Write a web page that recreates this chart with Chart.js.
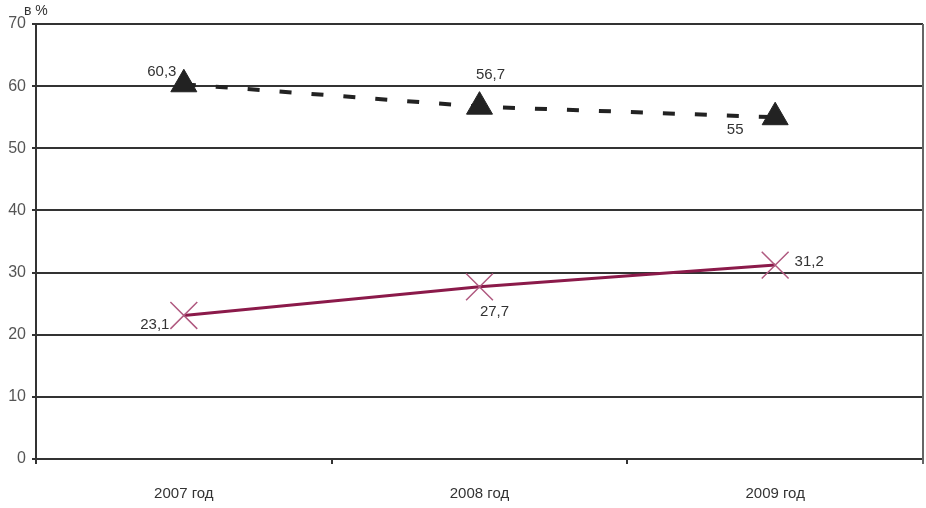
<!DOCTYPE html>
<html><head><meta charset="utf-8">
<script src="https://cdn.jsdelivr.net/npm/chart.js@4"></script>
<style>html,body{margin:0;padding:0;background:#fff}#wrap{width:926px;height:508px}</style>
</head><body><div id="wrap"><canvas id="c" width="926" height="508"></canvas></div>
<script>
const categories = ['2007 год', '2008 год', '2009 год'];
const seriesA = [60.3, 56.7, 55];
const seriesB = [23.1, 27.7, 31.2];
const labelsA = ['60,3', '56,7', '55'];
const labelsB = ['23,1', '27,7', '31,2'];
const yTicks = [0, 10, 20, 30, 40, 50, 60, 70];
const unitLabel = 'в %';

const labelOffsets = [
  [[-22, -12], [11, -32], [-40, 13]],
  [[-29, 9], [15, 25], [34, -3]]
];
const labelText = [labelsA, labelsB];

const pointLabels = {
  id: 'pointLabels',
  beforeDatasetsDraw(chart) {
    const ctx = chart.ctx, a = chart.chartArea;
    ctx.save();
    ctx.strokeStyle = '#666';
    ctx.lineWidth = 2;
    ctx.beginPath();
    ctx.moveTo(a.right, a.top);
    ctx.lineTo(a.right, a.bottom + 5);
    ctx.stroke();
    ctx.restore();
  },
  afterDatasetsDraw(chart) {
    const ctx = chart.ctx;
    ctx.save();
    ctx.font = '15px "Liberation Sans", Arial, sans-serif';
    ctx.fillStyle = '#333';
    ctx.textAlign = 'center';
    ctx.textBaseline = 'middle';
    chart.data.datasets.forEach((ds, di) => {
      chart.getDatasetMeta(di).data.forEach((pt, i) => {
        const o = labelOffsets[di][i];
        ctx.fillText(labelText[di][i], pt.x + o[0], pt.y + o[1]);
      });
    });
    ctx.font = '14px "Liberation Sans", Arial, sans-serif';
    ctx.textAlign = 'left';
    ctx.fillText(unitLabel, 24, 11);
    ctx.restore();
  }
};

new Chart(document.getElementById('c'), {
  type: 'line',
  data: {
    labels: categories,
    datasets: [
      {
        data: seriesA,
        borderColor: '#222',
        borderWidth: 4,
        borderDash: [12, 20],
        pointStyle: 'triangle',
        pointRadius: 15,
        pointBackgroundColor: '#222',
        pointBorderColor: '#222',
        pointBorderWidth: 1,
        tension: 0
      },
      {
        data: seriesB,
        borderColor: '#8b1a4a',
        borderWidth: 3,
        pointStyle: 'crossRot',
        pointRadius: 19,
        pointBorderColor: '#b05a80',
        pointBorderWidth: 1.5,
        tension: 0
      }
    ]
  },
  options: {
    responsive: false,
    animation: false,
    layout: { autoPadding: false, padding: { left: 0, top: 24, right: 3, bottom: 0 } },
    plugins: { legend: { display: false }, tooltip: { enabled: false } },
    scales: {
      x: {
        offset: true,
        afterFit: s => { s.height = 49; },
        grid: { drawOnChartArea: false, drawTicks: true, tickLength: 5, color: '#333', lineWidth: 2, offset: true },
        border: { display: true, color: '#333', width: 2 },
        ticks: { color: '#333', font: { size: 15, family: '"Liberation Sans", Arial, sans-serif' }, padding: 21 }
      },
      y: {
        min: 0, max: 70,
        afterFit: s => { s.width = 36; },
        afterBuildTicks: s => { s.ticks = yTicks.map(v => ({ value: v })); },
        grid: { color: '#333', lineWidth: 2, tickLength: 4 },
        border: { display: true, color: '#333', width: 2 },
        ticks: { color: '#555', font: { size: 16, family: '"Liberation Sans", Arial, sans-serif' }, padding: 6 }
      }
    }
  },
  plugins: [pointLabels]
});
</script>
</body></html>
